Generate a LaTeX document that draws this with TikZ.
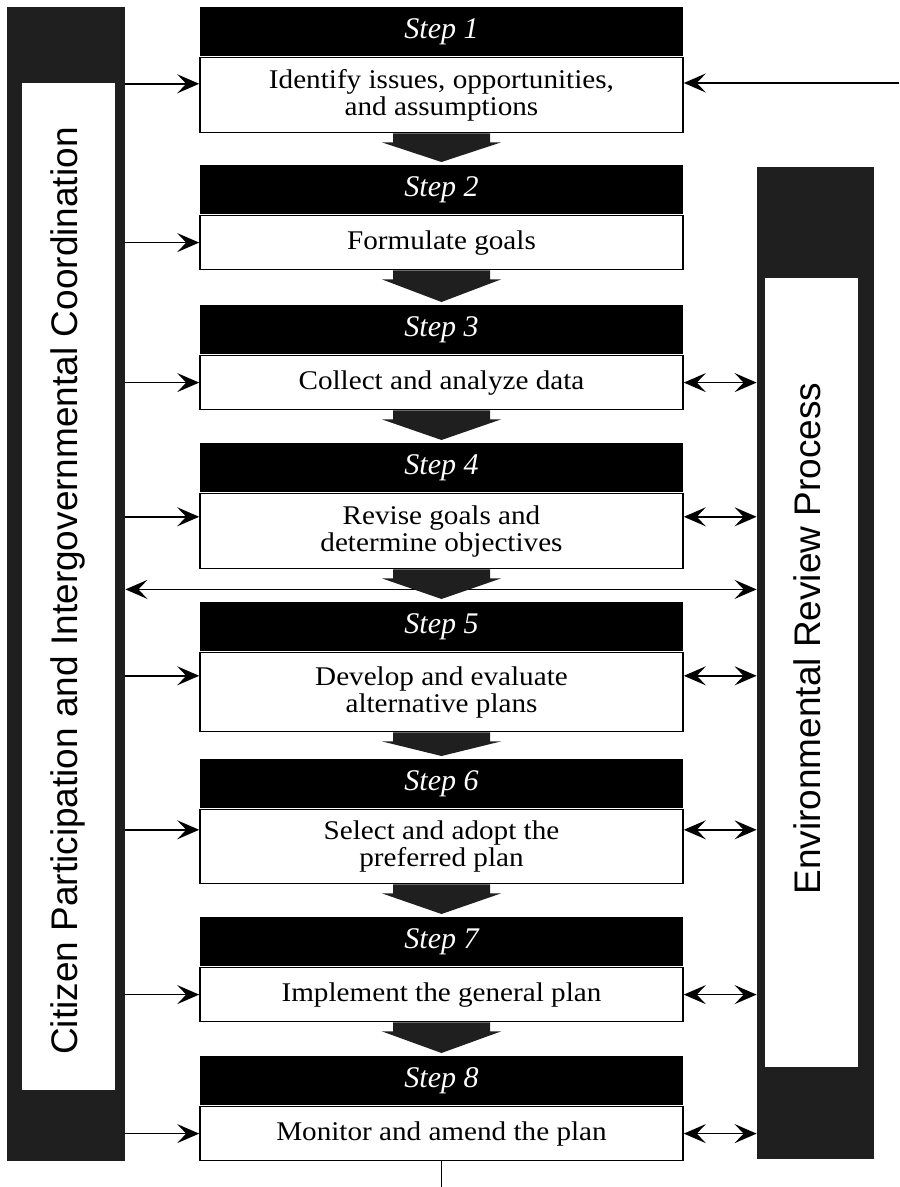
\documentclass[tikz,border=0pt]{standalone}
\usepackage{fontspec}
\setmainfont{Liberation Serif}
\setsansfont{Liberation Sans}
\newfontfamily\bodyserif[FakeStretch=1.08]{Liberation Serif}
\usetikzlibrary{arrows.meta,positioning,calc}

\tikzset{
  stephead/.style={fill=black, text=white, inner sep=0pt, anchor=north,
    minimum width=241.5pt, minimum height=24.5pt,
    font={\fontsize{15}{18}\selectfont\itshape}},
  stepbody/.style={draw=black, line width=0.8pt, fill=white, inner sep=0pt,
    minimum width=241.5pt, align=center,
    font={\bodyserif\fontsize{13.5}{13.5}\selectfont\lineskiplimit=-\maxdimen}},
  sidebar/.style={fill=black!88, inner sep=0pt},
  sidepanel/.style={fill=white, inner sep=0pt},
  sidetext/.style={rotate=90, anchor=base, inner sep=0pt,
    font={\sffamily\fontsize{18.5}{22}\selectfont}},
  link/.style={line width=0.8pt, -{Stealth[length=11pt, width=9.5pt, inset=4.5pt]}},
  duallink/.style={line width=0.8pt,
    {Stealth[length=11pt, width=9.5pt, inset=4.5pt]}-{Stealth[length=11pt, width=9.5pt, inset=4.5pt]}},
  flowfill/.style={fill=black!88},
}

% fat arrow from one step box down to the next header
\newcommand{\flowarrow}[2]{%
  \fill[flowfill] ($(#1.south)+(-48.5,0)$) -- ++(0,9) -- ++(-11,0)
    -- ($(#2.north)+(0,-3)$) -- ($(#1.south)+(59.5,9)$) -- ++(-11,0)
    -- ($(#1.south)+(48.5,0)$) -- cycle;}

\begin{document}
\begin{tikzpicture}[x=0.5pt, y=-0.5pt] % <- one unit per pixel, y downwards
   \useasboundingbox (0,0) rectangle (899,1187);
   % Left bar
   \node[sidebar, minimum width=59pt, minimum height=577pt] (citbar) at (66,584) {};
   \node[sidepanel, minimum width=46.5pt, minimum height=503.5pt] (citpanel) at (68.5,586.5) {};
   \node[sidetext] (cittext) at (77,591) {Citizen Participation and Intergovernmental Coordination};
   % Right bar
   \node[sidebar, minimum width=58.5pt, minimum height=496pt] (envbar) at (815.5,663) {};
   \node[sidepanel, minimum width=46.5pt, minimum height=394.5pt] (envpanel) at (811.5,672.5) {};
   \node[sidetext] (envtext) at (820,638.5) {Environmental Review Process};
   % Steps
   \node[stephead] (h1) at (441.5,7) {Step 1};
   \node[stepbody, minimum height=37.5pt, below=0pt of h1] (b1) {Identify issues, opportunities,\\and assumptions};
   \node[stephead] (h2) at (441.5,165) {Step 2};
   \node[stepbody, minimum height=27pt, below=0pt of h2] (b2) {Formulate goals};
   \node[stephead] (h3) at (441.5,305) {Step 3};
   \node[stepbody, minimum height=27pt, below=0pt of h3] (b3) {Collect and analyze data};
   \node[stephead] (h4) at (441.5,443) {Step 4};
   \node[stepbody, minimum height=37.5pt, below=0pt of h4] (b4) {Revise goals and\\determine objectives};
   \node[stephead] (h5) at (441.5,602) {Step 5};
   \node[stepbody, minimum height=39.5pt, below=0pt of h5] (b5) {Develop and evaluate\\alternative plans};
   \node[stephead] (h6) at (441.5,759) {Step 6};
   \node[stepbody, minimum height=37pt, below=0pt of h6] (b6) {Select and adopt the\\preferred plan};
   \node[stephead] (h7) at (441.5,917) {Step 7};
   \node[stepbody, minimum height=27pt, below=0pt of h7] (b7) {Implement the general plan};
   \node[stephead] (h8) at (441.5,1056) {Step 8};
   \node[stepbody, minimum height=27pt, below=0pt of h8] (b8) {Monitor and amend the plan};
   % Cross link between the bars
   \coordinate (cross) at ($(b4.south)+(0,20)$);
   \draw[duallink] (cross -| citbar.east) -- (cross -| envbar.west);
   % Fat arrows
   \flowarrow{b1}{h2}
   \flowarrow{b2}{h3}
   \flowarrow{b3}{h4}
   \flowarrow{b4}{h5}
   \flowarrow{b5}{h6}
   \flowarrow{b6}{h7}
   \flowarrow{b7}{h8}
   % Arrows from the left bar
   \coordinate (in1) at ($(b1.north west)+(0,27)$);
   \coordinate (in4) at ($(b4.north west)+(0,24)$);
   \coordinate (in5) at ($(b5.north west)+(0,24)$);
   \coordinate (in6) at ($(b6.north west)+(0,21)$);
   \draw[link] (citbar.east |- in1) -- (in1);
   \draw[link] (citbar.east |- b2.west) -- (b2.west);
   \draw[link] (citbar.east |- b3.west) -- (b3.west);
   \draw[link] (citbar.east |- in4) -- (in4);
   \draw[link] (citbar.east |- in5) -- (in5);
   \draw[link] (citbar.east |- in6) -- (in6);
   \draw[link] (citbar.east |- b7.west) -- (b7.west);
   \draw[link] (citbar.east |- b8.west) -- (b8.west);
   % Arrows to the right bar
   \coordinate (out4) at ($(b4.north east)+(0,24)$);
   \coordinate (out5) at ($(b5.north east)+(0,24)$);
   \coordinate (out6) at ($(b6.north east)+(0,21)$);
   \draw[duallink] (b3.east) -- (envbar.west |- b3.east);
   \draw[duallink] (out4) -- (envbar.west |- out4);
   \draw[duallink] (out5) -- (envbar.west |- out5);
   \draw[duallink] (out6) -- (envbar.west |- out6);
   \draw[duallink] (b7.east) -- (envbar.west |- b7.east);
   \draw[duallink] (b8.east) -- (envbar.west |- b8.east);
   % Feed into step 1 and outlet of step 8
   \coordinate (feed) at (899,83);
   \draw[link] (feed) -- (feed -| b1.east);
   \coordinate (outlet) at (441.5,1187);
   \draw[line width=0.8pt] (b8.south) -- (outlet);
\end{tikzpicture}
\end{document}
